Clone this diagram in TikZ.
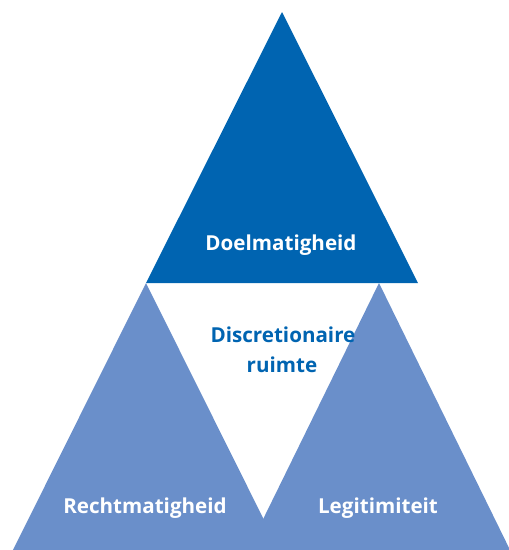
\documentclass[tikz,border=0pt]{standalone}
\usepackage{fontspec}
\setmainfont{Open Sans}
\definecolor{darkblue}{RGB}{0,100,177}
\definecolor{lightblue}{RGB}{106,143,202}
\begin{document}
\begin{tikzpicture}[x=1pt,y=-1pt,
  lbl/.style={font=\fontsize{20.6}{24}\selectfont\bfseries, anchor=base, inner sep=0pt},
  white lbl/.style={lbl, text=white},
  blue lbl/.style={lbl, text=darkblue}]
\useasboundingbox (0,0) rectangle (509,550);
\clip (0,0) rectangle (509,550);
\fill[lightblue] (146,283) -- (10,556) -- (282,556) -- cycle;
\fill[lightblue] (379,283) -- (245,556) -- (513,556) -- cycle;
\fill[darkblue] (282,12) -- (146,283) -- (418,283) -- cycle;
\node[white lbl] (doel) at (281,250) {Doelmatigheid};
\node[blue lbl] (disc) at (283,342) {Discretionaire};
\node[blue lbl] (ruim) at (282,372) {ruimte};
\node[white lbl] (recht) at (145,513) {Rechtmatigheid};
\node[white lbl] (legit) at (378,513) {Legitimiteit};
\end{tikzpicture}
\end{document}
